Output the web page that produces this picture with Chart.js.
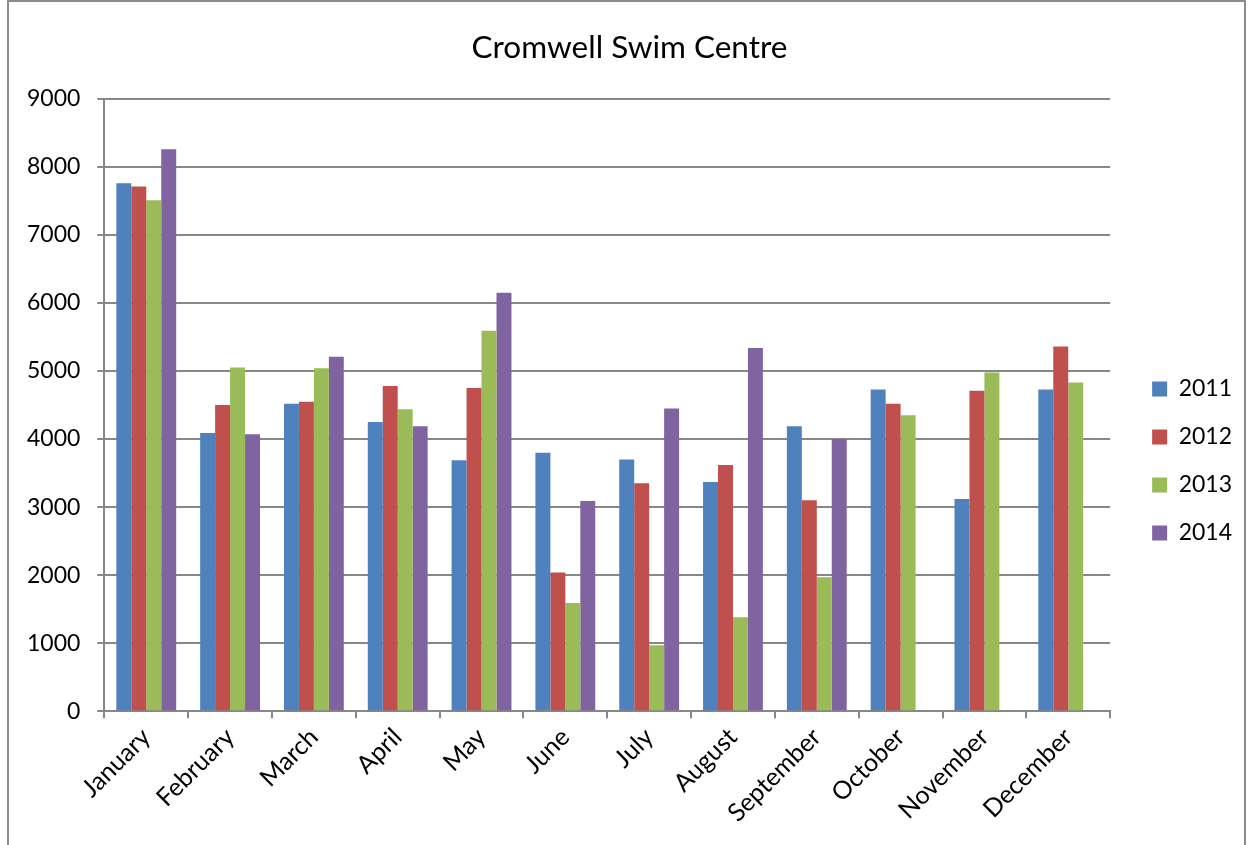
<!DOCTYPE html>
<html>
<head>
<meta charset="utf-8">
<title>Cromwell Swim Centre</title>
<script src="https://cdn.jsdelivr.net/npm/chart.js@4/dist/chart.umd.min.js"></script>
<style>
  html, body { margin: 0; padding: 0; background: #ffffff; overflow: hidden; }
  #wrap { position: relative; width: 1251px; height: 845px; }
  #frame { position: absolute; left: 7px; top: 0px; width: 1239px; height: 870px; border: 2px solid #8c8c8c; box-sizing: border-box; }
  canvas { position: absolute; left: 0; top: 0; }
</style>
</head>
<body>
<div id="wrap">
  <div id="frame"></div>
  <canvas id="chart" width="1251" height="845"></canvas>
</div>
<script>
// Monthly attendance at the swim centre, one series per year
const months = ["January", "February", "March", "April", "May", "June",
                "July", "August", "September", "October", "November", "December"];
const years = ["2011", "2012", "2013", "2014"];
const visits2011 = [7760, 4090, 4520, 4250, 3690, 3800, 3700, 3370, 4190, 4730, 3120, 4730];
const visits2012 = [7710, 4500, 4550, 4780, 4750, 2040, 3350, 3620, 3100, 4520, 4710, 5360];
const visits2013 = [7510, 5050, 5040, 4440, 5590, 1590, 970, 1380, 1970, 4350, 4980, 4830];
const visits2014 = [8260, 4070, 5210, 4190, 6150, 3090, 4450, 5340, 4000, null, null, null];
const yTicks = [0, 1000, 2000, 3000, 4000, 5000, 6000, 7000, 8000, 9000];

const seriesColours = ["#4F81BD", "#C0504D", "#9BBB59", "#8064A2"];
const seriesValues = [visits2011, visits2012, visits2013, visits2014];
const gridGrey = "#878787";
const fontFamily = 'Lato, "Open Sans", sans-serif';

const datasets = years.map((year, i) => ({
  label: year,
  data: seriesValues[i],
  backgroundColor: seriesColours[i],
  borderWidth: 0,
  categoryPercentage: 0.714,
  barPercentage: 1.0
}));

// Nudge the legend block down/right and the title to the right after layout
const boxNudge = {
  id: "boxNudge",
  afterLayout(chart) {
    const lg = chart.legend;
    if (lg) {
      lg.top += 38; lg.bottom += 38;
      lg.left += 17; lg.right += 17;
    }
    const tt = chart.titleBlock;
    if (tt) {
      tt.left += 12; tt.right += 12;
    }
  }
};

new Chart(document.getElementById("chart"), {
  type: "bar",
  data: { labels: months, datasets: datasets },
  plugins: [boxNudge],
  options: {
    responsive: false,
    animation: false,
    layout: { padding: { left: 10, right: 26, top: 14, bottom: 13 } },
    plugins: {
      title: {
        display: true,
        text: "Cromwell Swim Centre",
        color: "#000000",
        font: { family: fontFamily, size: 31.5, weight: "normal" },
        padding: { top: 15, bottom: 32 }
      },
      legend: {
        position: "right",
        labels: {
          color: "#000000",
          boxWidth: 15,
          boxHeight: 15,
          padding: 25,
          font: { family: fontFamily, size: 23 }
        }
      },
      tooltip: { enabled: false }
    },
    scales: {
      x: {
        offset: true,
        grid: {
          display: true,
          offset: true,
          drawOnChartArea: false,
          drawTicks: true,
          tickLength: 7,
          color: gridGrey,
          lineWidth: 2
        },
        border: { display: true, color: gridGrey, width: 2 },
        ticks: {
          color: "#000000",
          maxRotation: 45,
          minRotation: 45,
          padding: 4,
          font: { family: fontFamily, size: 25 }
        }
      },
      y: {
        min: 0,
        max: 9000,
        afterBuildTicks: (axis) => { axis.ticks = yTicks.map(v => ({ value: v })); },
        grid: {
          color: gridGrey,
          lineWidth: 2,
          tickLength: 7,
          drawTicks: true
        },
        border: { display: true, color: gridGrey, width: 2 },
        ticks: {
          color: "#000000",
          padding: 17,
          font: { family: fontFamily, size: 23 },
          callback: (value) => String(value)
        }
      }
    }
  }
});
</script>
</body>
</html>
